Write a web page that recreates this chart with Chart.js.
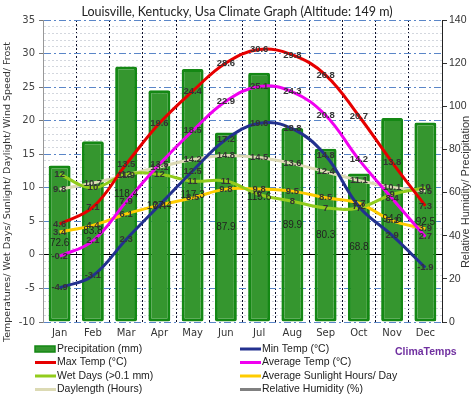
<!DOCTYPE html>
<html>
<head>
<meta charset="utf-8">
<script src="https://cdn.jsdelivr.net/npm/chart.js@4"></script>
<style>
  html, body { margin: 0; padding: 0; background: #fff; }
</style>
</head>
<body>
<canvas id="climate-chart" width="474" height="400"></canvas>
<script>
// Louisville climate data
const months = ["Jan", "Feb", "Mar", "Apr", "May", "Jun", "Jul", "Aug", "Sep", "Oct", "Nov", "Dec"];
const precipitation = [72.6, 83.8, 118.4, 107.4, 117.3, 87.9, 115.6, 89.9, 80.3, 68.8, 94.6, 92.5];
const minTemp = [-4.9, -3.1, 2.3, 7.4, 12.5, 17.2, 19.6, 18.8, 14.8, 7.2, 2.9, -1.9];
const maxTemp = [4.6, 7.1, 13.5, 19.6, 24.4, 28.6, 30.6, 29.8, 26.8, 20.7, 13.8, 7.3];
const avgTemp = [-0.2, 2.1, 7.9, 13.5, 18.5, 22.9, 25.1, 24.3, 20.8, 14.2, 8.4, 2.7];
const wetDays = [12, 10, 12, 12, 11, 11, 9, 8, 7, 7, 9, 10];
const sunlight = [3.4, 4.4, 6.1, 7.4, 8.5, 9.8, 9.8, 9.5, 8.5, 7.7, 5.1, 3.9];
const daylength = [9.8, 10.7, 11.9, 13.1, 14.2, 14.8, 14.5, 13.6, 12.4, 11.1, 10.1, 9.5];
const humidity = [68, 62, 59, 55, 54, 54, 53, 54, 52, 52, 60, 65];

const leftTicks = { min: -10, max: 35, major: 5 };
const rightTicks = { min: 0, max: 140, step: 20 };

const leftTitle = "Temperatures/ Wet Days/ Sunlight/ Daylight/ Wind Speed/ Frost";
const rightTitle = "Relative Humidity/ Precipitation";

function lineSet(label, data, color) {
  return {
    type: 'line', label: label, data: data, yAxisID: 'y',
    borderColor: color, backgroundColor: color, borderWidth: 3,
    pointRadius: 0, tension: 0.4, fill: false
  };
}

// value labels on every point / bar
const valueLabels = {
  id: 'valueLabels',
  afterDatasetsDraw(chart) {
    const ctx = chart.ctx;
    ctx.save();
    ctx.textAlign = 'center';
    ctx.textBaseline = 'middle';
    chart.data.datasets.forEach((ds, i) => {
      const meta = chart.getDatasetMeta(i);
      meta.data.forEach((el, j) => {
        const txt = String(ds.data[j]);
        if (ds.type === 'bar') {
          ctx.font = '10px "Liberation Sans", Arial, sans-serif';
          ctx.fillStyle = '#222';
          ctx.fillText(txt, el.x, (el.y + el.base) / 2);
        } else {
          ctx.font = 'bold 9.5px "Liberation Sans", Arial, sans-serif';
          ctx.fillStyle = '#333';
          ctx.fillText(txt, el.x, el.y);
        }
      });
    });
    ctx.restore();
  }
};

// axis titles, legend in two columns, brand
const extras = {
  id: 'extras',
  afterDraw(chart) {
    const ctx = chart.ctx;
    ctx.save();
    ctx.fillStyle = '#333';
    ctx.textAlign = 'center';
    ctx.textBaseline = 'middle';

    ctx.save();
    ctx.translate(8, 192);
    ctx.rotate(-Math.PI / 2);
    ctx.font = '9.5px "DejaVu Sans", Verdana, sans-serif';
    ctx.fillText(leftTitle, 0, 0);
    ctx.restore();

    ctx.save();
    ctx.translate(466, 192);
    ctx.rotate(-Math.PI / 2);
    ctx.font = '11px "Liberation Sans", Arial, sans-serif';
    ctx.fillText(rightTitle, 0, 0);
    ctx.restore();

    ctx.textAlign = 'left';
    ctx.font = '10.5px "Liberation Sans", Arial, sans-serif';
    chart.data.datasets.forEach((ds, i) => {
      const x = i % 2 === 0 ? 35 : 240;
      const y = 349 + Math.floor(i / 2) * 13.5;
      if (ds.type === 'bar') {
        ctx.fillStyle = ds.backgroundColor;
        ctx.fillRect(x, y - 3, 20, 6);
        ctx.strokeStyle = ds.borderColor;
        ctx.lineWidth = 1.5;
        ctx.strokeRect(x, y - 3, 20, 6);
      } else {
        ctx.strokeStyle = ds.borderColor;
        ctx.lineWidth = 3;
        ctx.beginPath();
        ctx.moveTo(x, y);
        ctx.lineTo(x + 21, y);
        ctx.stroke();
      }
      ctx.fillStyle = '#222';
      ctx.fillText(ds.label, x + 22, y);
    });

    ctx.font = 'bold 10.5px "Liberation Sans", Arial, sans-serif';
    ctx.fillStyle = '#7030a0';
    ctx.fillText('ClimaTemps', 395, 352);
    ctx.restore();
  }
};

new Chart(document.getElementById("climate-chart"), {
  data: {
    labels: months,
    datasets: [
      {
        type: 'bar', label: 'Precipitation (mm)', data: precipitation, yAxisID: 'y1',
        backgroundColor: '#35962f', borderColor: '#148814', borderWidth: 3,
        borderSkipped: false, borderRadius: 2,
        categoryPercentage: 1, barPercentage: 0.66, order: 9
      },
      lineSet('Min Temp (°C)', minTemp, '#23318f'),
      lineSet('Max Temp (°C)', maxTemp, '#e60000'),
      lineSet('Average Temp (°C)', avgTemp, '#f000f0'),
      lineSet('Wet Days (>0.1 mm)', wetDays, '#92cc1c'),
      lineSet('Average Sunlight Hours/ Day', sunlight, '#ffcc00'),
      lineSet('Daylength (Hours)', daylength, '#dcdab4'),
      lineSet('Relative Humidity (%)', humidity, '#808080')
    ]
  },
  options: {
    responsive: false,
    animation: false,
    layout: { padding: 0 },
    plugins: {
      legend: { display: false },
      tooltip: { enabled: false },
      title: {
        display: true,
        text: 'Louisville, Kentucky, Usa Climate Graph (Altitude: 149 m)',
        color: '#222',
        font: { family: 'Lato', size: 12.5, weight: 'normal' },
        padding: { top: 4, bottom: 1 }
      }
    },
    scales: {
      x: {
        afterFit: s => { s.height = 78; },
        ticks: { padding: 5, color: '#333', font: { family: 'DejaVu Sans', size: 10 } },
        grid: { offset: true, color: '#0c0f2a', drawTicks: false },
        border: { display: false, dash: [2, 2] }
      },
      y: {
        position: 'left',
        min: leftTicks.min, max: leftTicks.max,
        afterFit: s => { s.width = 43; },
        ticks: {
          stepSize: 1, autoSkip: false, maxTicksLimit: 100, padding: 4,
          color: '#444', font: { family: 'DejaVu Sans', size: 10 },
          callback: v => v % leftTicks.major === 0 ? v : ''
        },
        grid: {
          color: c => c.tick.value === 0 ? '#000' : (c.tick.value % leftTicks.major === 0 ? '#5a86c8' : '#d3d7de'),
          tickLength: 4,
          tickColor: c => c.tick.value % leftTicks.major === 0 ? '#777' : 'rgba(0,0,0,0)'
        },
        border: {
          color: '#999',
          dash: c => !c.tick || c.tick.value === 0 ? [] : (c.tick.value % leftTicks.major === 0 ? [7, 3, 2, 3] : [2, 2])
        }
      },
      y1: {
        position: 'right',
        min: rightTicks.min, max: rightTicks.max,
        afterFit: s => { s.width = 32; },
        ticks: { stepSize: rightTicks.step, padding: 2, color: '#333', font: { family: 'Liberation Sans', size: 10.5 } },
        grid: { drawOnChartArea: false, tickLength: 5, tickColor: '#333' },
        border: { color: '#222', width: 1 }
      }
    }
  },
  plugins: [valueLabels, extras]
});
</script>
</body>
</html>
